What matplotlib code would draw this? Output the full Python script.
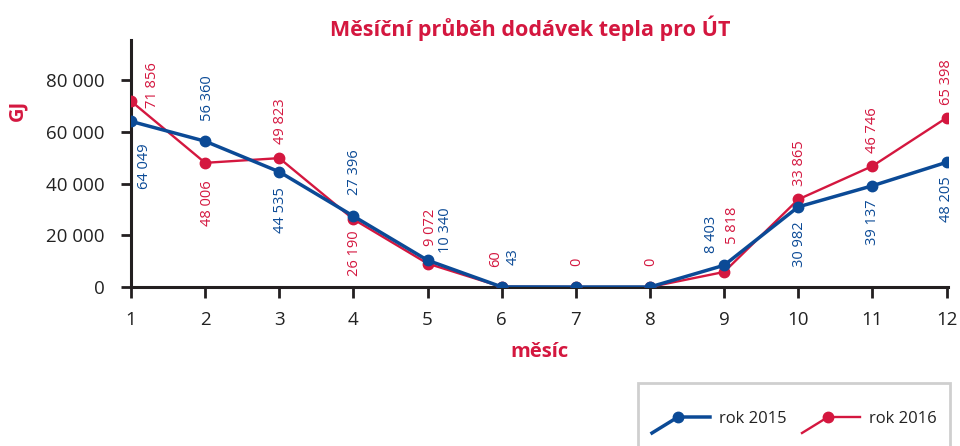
import matplotlib
matplotlib.use("Agg")
import matplotlib.pyplot as plt
from matplotlib.lines import Line2D
from matplotlib.patches import Rectangle

plt.rcParams['font.family'] = ['Open Sans', 'DejaVu Sans']

# ---- data ------------------------------------------------------------------
months = list(range(1, 13))
gj_2015 = [64049, 56360, 44535, 27396, 10340, 43, 0, 0, 8403, 30982, 39137, 48205]
gj_2016 = [71856, 48006, 49823, 26190, 9072, 60, 0, 0, 5818, 33865, 46746, 65398]
y_ticks = [0, 20000, 40000, 60000, 80000]
series_names = ["rok 2015", "rok 2016"]

BLUE = "#0b4a96"
RED = "#d4173f"
DARK = "#231f20"

# label offsets in pixels (dx, dy); None = no label
off_2015 = [(14, -45), (2, 43), (1, -38), (1, 44), (18, 30), (11, 30),
            None, None, (-13, 31), (1, -37), (0, -36), (0, -37)]
off_2016 = [(21, 16), (2, -40), (1, 37), (1, -34), (3, 36), (-6, 28),
            (1, 25), (1, 25), (8, 47), (1, 36), (0, 36), (0, 36)]


def fmt(v):
    return f"{v:,}".replace(",", " ")


fig = plt.figure(figsize=(9.6, 4.46), dpi=100)
ax = fig.add_axes([131 / 960, 1 - 287 / 446, (948 - 131) / 960, (287 - 40) / 446])

ax.plot(months, gj_2016, color=RED, lw=1.7, marker="o", ms=7.5, zorder=3)
ax.plot(months, gj_2015, color=BLUE, lw=2.5, marker="o", ms=7.5, zorder=4)

for vals, offs, col in [(gj_2015, off_2015, BLUE), (gj_2016, off_2016, RED)]:
    for m, v, o in zip(months, vals, offs):
        if o is None:
            continue
        ax.annotate(fmt(v), (m, v), xytext=o, textcoords="offset pixels",
                    rotation=90, ha="center", va="center", fontsize=10.5,
                    color=col)

ax.set_xlim(1, 12.02)
ax.set_ylim(0, 95500)
ax.set_xticks(months)
ax.set_yticks(y_ticks)
ax.set_yticklabels([fmt(t) for t in y_ticks])
ax.spines["top"].set_visible(False)
ax.spines["right"].set_visible(False)
for s in ["left", "bottom"]:
    ax.spines[s].set_linewidth(2.2)
    ax.spines[s].set_color(DARK)
ax.tick_params(axis="both", colors=DARK, width=2, length=7, labelsize=13.5,
               labelcolor="#222222")
ax.tick_params(axis="x", length=8, pad=9)
ax.tick_params(axis="y", pad=12)

fig.text(530 / 960, 1 - 28 / 446, "Měsíční průběh dodávek tepla pro ÚT",
         ha="center", va="center", fontsize=15.5, fontweight="bold", color=RED)
fig.text(539 / 960, 1 - 352 / 446, "měsíc", ha="center", va="center",
         fontsize=14.5, fontweight="bold", color=RED)
fig.text(17 / 960, 1 - 110 / 446, "GJ", ha="center", va="center",
         rotation=90, fontsize=14.5, fontweight="bold", color=RED)

# ---- legend (drawn by hand to get the bent line glyph) ---------------------
def px(x, y):
    return x / 960, 1 - y / 446

lx, ly = px(638, 383)
fig.patches.append(Rectangle((lx, -0.1), (950 - 638) / 960, ly + 0.1,
                             transform=fig.transFigure, fill=False,
                             edgecolor="#cfcfcf", lw=2))
for x0, col, lw, name in [(652, BLUE, 2.5, series_names[0]),
                          (802, RED, 1.7, series_names[1])]:
    xs = [x0 / 960, (x0 + 26) / 960, (x0 + 58) / 960]
    ys = [1 - 433 / 446, 1 - 417 / 446, 1 - 417 / 446]
    fig.lines.append(Line2D(xs, ys, color=col, lw=lw, transform=fig.transFigure))
    fig.lines.append(Line2D([xs[1]], [ys[1]], color=col, marker="o", ms=7.5,
                            transform=fig.transFigure))
    fig.text((x0 + 67) / 960, 1 - 419 / 446, name, ha="left", va="center",
             fontsize=12, color="#222222")

fig.savefig("out.png", dpi=100)
